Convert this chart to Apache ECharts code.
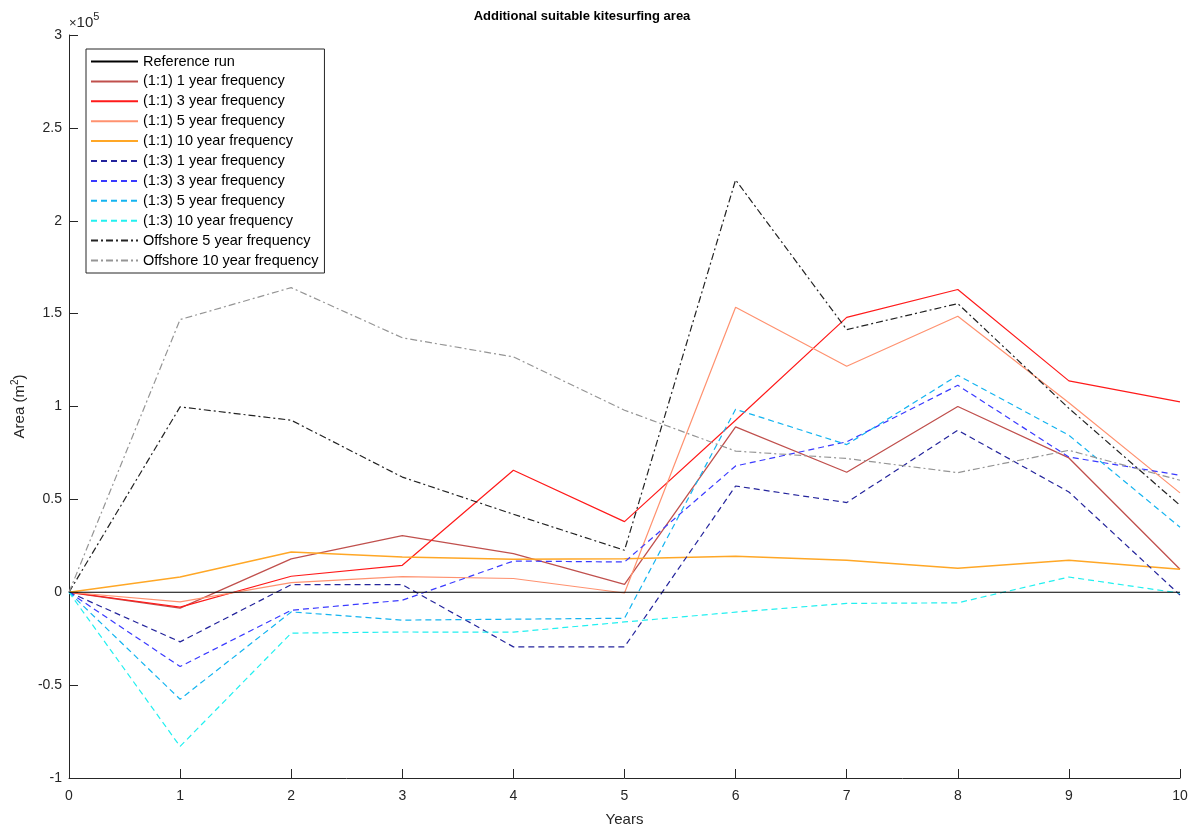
<!DOCTYPE html>
<html>
<head>
<meta charset="utf-8">
<script src="https://cdn.jsdelivr.net/npm/echarts@6/dist/echarts.min.js"></script>
<style>html,body{margin:0;padding:0;background:#fff;}#c{width:1195px;height:825px;}</style>
</head>
<body>
<div id="c"></div>
<script>
const years = [0,1,2,3,4,5,6,7,8,9,10];
const yTicks = [-100000,-50000,0,50000,100000,150000,200000,250000,300000];
const seriesNames = [
  'Reference run',
  '(1:1) 1 year frequency',
  '(1:1) 3 year frequency',
  '(1:1) 5 year frequency',
  '(1:1) 10 year frequency',
  '(1:3) 1 year frequency',
  '(1:3) 3 year frequency',
  '(1:3) 5 year frequency',
  '(1:3) 10 year frequency',
  'Offshore 5 year frequency',
  'Offshore 10 year frequency'
];
const referenceRun = [0,0,0,0,0,0,0,0,0,0,0];
const r11_1yr  = [0,-8500,18000,30500,20800,4300,89000,64600,100000,72300,12400];
const r11_3yr  = [0,-8000,8600,14500,65700,38000,92600,148000,163000,113800,102500];
const r11_5yr  = [0,-5200,5200,8400,7400,-400,153400,121700,148600,102000,53500];
const r11_10yr = [0,8200,21700,19000,17800,18100,19400,17200,12900,17200,12400];
const r13_1yr  = [0,-26700,4100,4100,-29400,-29400,57200,48300,87200,54000,-1500];
const r13_3yr  = [0,-40000,-9700,-4300,16800,16300,68000,81000,111400,72800,63000];
const r13_5yr  = [0,-57600,-10600,-15000,-14500,-14000,98500,79500,116800,84500,35000];
const r13_10yr = [0,-83000,-22000,-21400,-21500,-16000,-10700,-6000,-5700,8200,-500];
const off_5yr  = [0,99800,92600,62000,42000,22600,222000,141400,155400,99000,46800];
const off_10yr = [0,146800,164000,137000,126700,98000,76000,72000,64400,76400,60300];

const allData = [referenceRun,r11_1yr,r11_3yr,r11_5yr,r11_10yr,r13_1yr,r13_3yr,r13_5yr,r13_10yr,off_5yr,off_10yr];
const colors = ['#000000','#c0504d','#ff1a1a','#ff9270','#ffa726','#24249c','#3a3aff','#14b4f0','#22f0f0','#222222','#959595'];
const dashed = [6,4];
const dashdot = [7,3,2,3];
const types = ['solid','solid','solid','solid','solid',dashed,dashed,dashed,dashed,dashdot,dashdot];
const widths = [1.2,1.3,1.2,1.2,1.5,1.2,1.2,1.2,1.2,1.2,1.2];

const series = allData.map((d,i)=>({
  name: seriesNames[i],
  type: 'line',
  symbol: 'none',
  animation: false,
  z: i===0 ? 3 : 2,
  lineStyle: {color: colors[i], width: widths[i], type: types[i]},
  itemStyle: {color: colors[i]},
  data: years.map((x,k)=>[x,d[k]])
}));

const font = 'Liberation Sans, Arial, Helvetica, sans-serif';
const chart = echarts.init(document.getElementById('c'), null, {renderer:'canvas'});
chart.setOption({
  backgroundColor: '#ffffff',
  animation: false,
  title: {
    text: 'Additional suitable kitesurfing area',
    left: 577, top: 5, textAlign: 'center',
    textStyle: {fontFamily: font, fontSize: 13, fontWeight: 'bold', color: '#000'}
  },
  grid: {left: 69, right: 15, top: 35, bottom: 47, containLabel: false, outerBoundsMode: 'none'},
  legend: {
    orient: 'vertical', left: 86, top: 49,
    padding: [5,6,5,4], itemGap: 4.9, itemWidth: 47, itemHeight: 12,
    borderColor: '#262626', borderWidth: 1, backgroundColor: '#fff',
    itemStyle: {opacity: 0},
    textStyle: {fontFamily: font, fontSize: 14.5, color: '#000'},
    data: seriesNames
  },
  graphic: [{
    type: 'text', left: 69, top: 11,
    style: {
      text: '{x|×}{b|10}{s|5}',
      rich: {
        x: {fontFamily: font, fontSize: 13, fill: '#262626', verticalAlign:'bottom'},
        b: {fontFamily: font, fontSize: 15, fill: '#262626', verticalAlign:'bottom'},
        s: {fontFamily: font, fontSize: 11, fill: '#262626', verticalAlign:'top', padding:[0,0,8,0]}
      }
    }
  }],
  xAxis: {
    type: 'value', min: 0, max: 10, interval: 1,
    name: 'Years', nameLocation: 'middle', nameGap: 34,
    nameTextStyle: {fontFamily: font, fontSize: 15, color: '#262626'},
    axisLine: {show: true, onZero: false, lineStyle: {color: '#262626', width: 1}},
    axisTick: {show: true, inside: true, length: 9, lineStyle: {color: '#262626'}},
    axisLabel: {fontFamily: font, fontSize: 14, color: '#262626', margin: 11},
    splitLine: {show: false}
  },
  yAxis: {
    type: 'value', min: -100000, max: 300000, interval: 50000,
    name: 'Area (m{sup|2})', nameLocation: 'middle', nameGap: 28, nameRotate: 90,
    nameTextStyle: {fontFamily: font, fontSize: 15, color: '#262626',
      rich: {sup: {fontFamily: font, fontSize: 10, color: '#262626', verticalAlign: 'top', padding:[0,0,8,0]}}},
    axisLine: {show: true, onZero: false, lineStyle: {color: '#262626', width: 1}},
    axisTick: {show: true, inside: true, length: 9, lineStyle: {color: '#262626'}},
    axisLabel: {fontFamily: font, fontSize: 14, color: '#262626', margin: 7,
      formatter: v => String(Math.round(v/1e5*10)/10)},
    splitLine: {show: false}
  },
  series: series
});
</script>
</body>
</html>
